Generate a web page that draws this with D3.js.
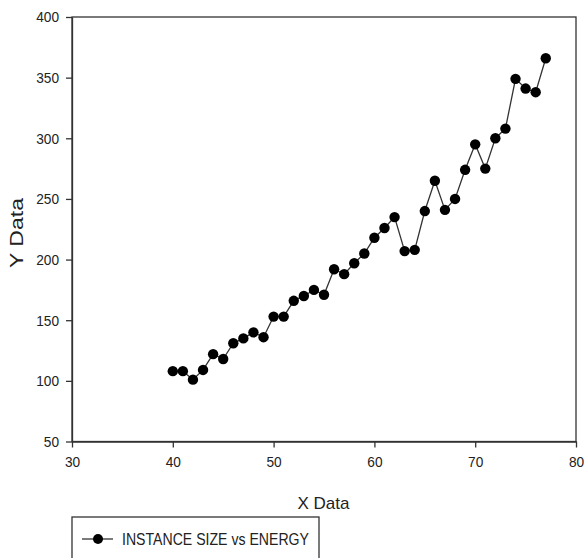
<!DOCTYPE html>
<html>
<head>
<meta charset="utf-8">
<script src="https://cdn.jsdelivr.net/npm/d3@7/dist/d3.min.js"></script>
<style>
  html, body { margin: 0; padding: 0; background: #fff; }
  svg { display: block; }
  text { font-family: "Liberation Sans", Arial, sans-serif; fill: #222; }
</style>
</head>
<body>
<svg id="chart" width="585" height="558"></svg>
<script>
// ---- data ----
const xValues = [40,41,42,43,44,45,46,47,48,49,50,51,52,53,54,55,56,57,58,59,60,61,62,63,64,65,66,67,68,69,70,71,72,73,74,75,76,77];
const yValues = [108,108,101,109,122,118,131,135,140,136,153,153,166,170,175,171,192,188,197,205,218,226,235,207,208,240,265,241,250,274,295,275,300,308,349,341,338,366];
const xTicks = [30,40,50,60,70,80];
const yTicks = [50,100,150,200,250,300,350,400];
const xTitle = "X Data";
const yTitle = "Y Data";
const seriesName = "INSTANCE SIZE vs ENERGY";

const svg = d3.select("#chart");
const L = 72, R = 576, T = 17, B = 441.5;

const x = d3.scaleLinear().domain([30, 80]).range([L, R]);
const y = d3.scaleLinear().domain([50, 400]).range([B, T]);

const axisColor = "#333";

// frame
svg.append("rect")
  .attr("x", L).attr("y", T).attr("width", R - L).attr("height", B - T)
  .attr("fill", "none").attr("stroke", axisColor).attr("stroke-width", 1.3);

function styleTicks(g) {
  g.select(".domain").attr("stroke", axisColor).attr("stroke-width", 1.3);
  g.selectAll(".tick line").attr("stroke", axisColor).attr("stroke-width", 1.3);
  g.selectAll(".tick text").attr("font-size", 15).attr("fill", "#222")
    .attr("font-family", "'Liberation Sans', Arial, sans-serif")
    .attr("textLength", function () { return this.textContent.length * 7.6; })
    .attr("lengthAdjust", "spacingAndGlyphs");
}

// y axis
const gy = svg.append("g").attr("transform", `translate(${L},0)`)
  .call(d3.axisLeft(y).tickValues(yTicks).tickSize(6).tickSizeOuter(0).tickPadding(7).tickFormat(d3.format("d")));
styleTicks(gy);

// x axis
const gx = svg.append("g").attr("transform", `translate(0,${B})`)
  .call(d3.axisBottom(x).tickValues(xTicks).tickSize(6).tickSizeOuter(0).tickPadding(9).tickFormat(d3.format("d")));
styleTicks(gx);

// axis titles
svg.append("text")
  .attr("x", 323.5).attr("y", 509)
  .attr("text-anchor", "middle").attr("font-size", 17)
  .attr("textLength", 52).attr("lengthAdjust", "spacingAndGlyphs")
  .text(xTitle);

svg.append("text")
  .attr("transform", "translate(22.5,233) rotate(-90)")
  .attr("text-anchor", "middle").attr("font-size", 18)
  .attr("textLength", 70).attr("lengthAdjust", "spacingAndGlyphs")
  .text(yTitle);

// series
const data = xValues.map((d, i) => ({ x: d, y: yValues[i] }));
svg.append("path")
  .datum(data)
  .attr("fill", "none").attr("stroke", "#333").attr("stroke-width", 1.3)
  .attr("d", d3.line().x(d => x(d.x)).y(d => y(d.y)));

svg.append("g").selectAll("circle").data(data).join("circle")
  .attr("cx", d => x(d.x)).attr("cy", d => y(d.y)).attr("r", 5.2)
  .attr("fill", "#000");

// legend
const lg = svg.append("g");
lg.append("rect")
  .attr("x", 72).attr("y", 517).attr("width", 247).attr("height", 60)
  .attr("fill", "#fff").attr("stroke", axisColor).attr("stroke-width", 1.3);
lg.append("line")
  .attr("x1", 82).attr("x2", 113).attr("y1", 539).attr("y2", 539)
  .attr("stroke", "#333").attr("stroke-width", 1.3);
lg.append("circle").attr("cx", 98).attr("cy", 539).attr("r", 5).attr("fill", "#000");
lg.append("text")
  .attr("x", 122).attr("y", 545)
  .attr("font-size", 17)
  .attr("textLength", 187).attr("lengthAdjust", "spacingAndGlyphs")
  .text(seriesName);
</script>
</body>
</html>
